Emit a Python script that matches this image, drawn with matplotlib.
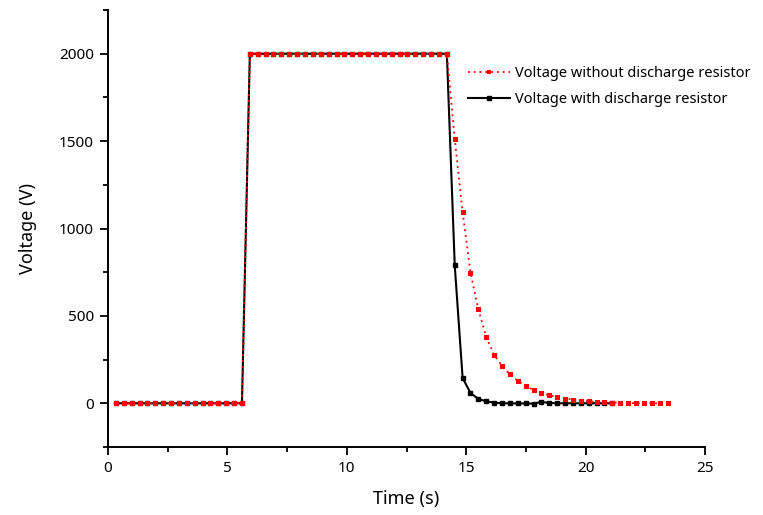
import matplotlib
matplotlib.use("Agg")
import matplotlib.pyplot as plt
from matplotlib.ticker import MultipleLocator

plt.rcParams['font.family'] = ['Noto Sans', 'DejaVu Sans']

# Time samples (s)
time_red = [0.33, 0.66, 0.99, 1.32, 1.65, 1.98, 2.31, 2.64, 2.97, 3.30,
            3.63, 3.96, 4.29, 4.62, 4.95, 5.28, 5.61, 5.94, 6.27, 6.60,
            6.93, 7.26, 7.59, 7.92, 8.25, 8.58, 8.91, 9.24, 9.57, 9.90,
            10.23, 10.56, 10.89, 11.22, 11.55, 11.88, 12.21, 12.54, 12.87, 13.20,
            13.53, 13.86, 14.19, 14.52, 14.85, 15.18, 15.51, 15.84, 16.17, 16.50,
            16.83, 17.16, 17.49, 17.82, 18.15, 18.48, 18.81, 19.14, 19.47, 19.80,
            20.13, 20.46, 20.79, 21.12, 21.45, 21.78, 22.11, 22.44, 22.77, 23.10,
            23.43]
time_black = time_red[:64]

# Voltage without discharge resistor (V)
v_without = [0, 0, 0, 0, 0, 0, 0, 0, 0, 0,
             0, 0, 0, 0, 0, 0, 0, 2000, 2000, 2000,
             2000, 2000, 2000, 2000, 2000, 2000, 2000, 2000, 2000, 2000,
             2000, 2000, 2000, 2000, 2000, 2000, 2000, 2000, 2000, 2000,
             2000, 2000, 2000, 1512, 1093, 747, 537, 380, 277, 213,
             166, 128, 99, 76, 59, 46, 36, 27, 21, 15,
             11, 8, 6, 4, 4, 2, 1, 1, 0, 0,
             0]

# Voltage with discharge resistor (V)
v_with = [0, 0, 0, 0, 0, 0, 0, 0, 0, 0,
          0, 0, 0, 0, 0, 0, 0, 2000, 2000, 2000,
          2000, 2000, 2000, 2000, 2000, 2000, 2000, 2000, 2000, 2000,
          2000, 2000, 2000, 2000, 2000, 2000, 2000, 2000, 2000, 2000,
          2000, 2000, 2000, 789, 145, 59, 25, 11, 4, 0,
          0, -1, -1, -2, 8, 2, 0, 0, 0, 0,
          0, 0, 0, 0]

fig = plt.figure(figsize=(7.63, 5.15), dpi=100)
ax = fig.add_axes([108/763, 1-447/515, (705-108)/763, (447-10)/515])

ax.plot(time_black, v_with, color='black', linestyle='-', linewidth=1.5,
        marker='s', markersize=2.6, label='Voltage with discharge resistor', zorder=2)
ax.plot(time_red, v_without, color='#ff0000', linestyle=(0, (1, 2.2)), linewidth=1.3,
        marker='s', markersize=3.6, markeredgewidth=0,
        label='Voltage without discharge resistor', zorder=3)

ax.set_xlim(0, 25)
ax.set_ylim(-250, 2250)
ax.xaxis.set_major_locator(MultipleLocator(5))
ax.xaxis.set_minor_locator(MultipleLocator(2.5))
ax.yaxis.set_major_locator(MultipleLocator(500))
ax.yaxis.set_minor_locator(MultipleLocator(250))

for s in ['top', 'right']:
    ax.spines[s].set_visible(False)
for s in ['left', 'bottom']:
    ax.spines[s].set_linewidth(1.4)

ax.tick_params(which='major', direction='out', length=6, width=1.3, labelsize=11, pad=4)
ax.tick_params(which='minor', direction='out', length=3.5, width=1.3)

ax.set_xlabel('Time (s)', fontsize=13, labelpad=10)
ax.set_ylabel('Voltage (V)', fontsize=13, labelpad=16)

handles, labels = ax.get_legend_handles_labels()
leg = ax.legend(handles[::-1], labels[::-1], loc='upper left',
                bbox_to_anchor=(468/763, 1-66/515), bbox_transform=fig.transFigure,
                frameon=False, fontsize=10.5, handlelength=2.9, handletextpad=0.3,
                labelspacing=0.75, borderpad=0, borderaxespad=0, markerscale=0.9)

fig.savefig('out.png', dpi=100)
